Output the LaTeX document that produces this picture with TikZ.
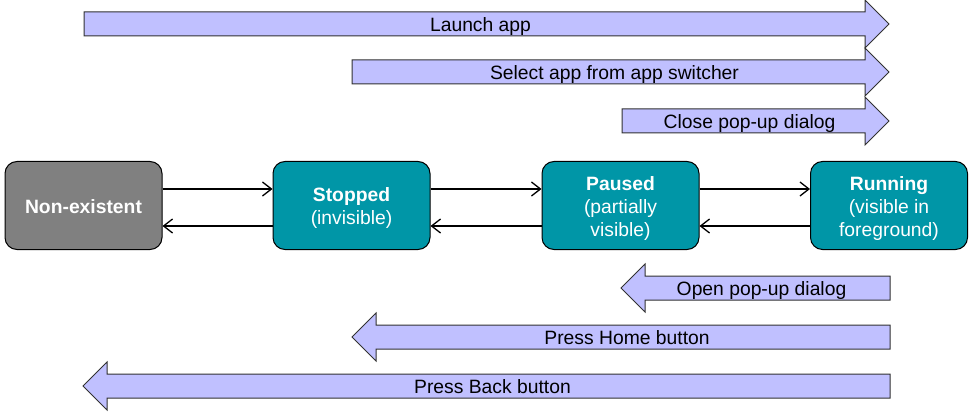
\documentclass[tikz,border=0pt]{standalone}
\usepackage{fontspec}
\setmainfont{Liberation Sans}
\usetikzlibrary{arrows.meta}
\definecolor{teal1}{RGB}{0,150,167}
\definecolor{gray1}{RGB}{128,128,128}
\definecolor{lav}{RGB}{192,192,255}
\definecolor{edge}{RGB}{50,50,50}
\tikzset{
  statebox/.style={draw=black, line width=1pt, rounded corners=12pt, minimum width=157pt, minimum height=88pt, text=white, align=center, inner sep=0pt, font=\fontsize{19.3}{23}\selectfont},
  fatarrow/.style={draw=edge, line width=1pt, fill=lav},
  arrowlabel/.style={font=\fontsize{19.3}{23}\selectfont, inner sep=0pt, anchor=base},
  conn/.style={line width=1.3pt, -{Straight Barb[length=9pt,width=14pt,line width=1.3pt]}}
}
\newcommand\boxtxt[1]{\raisebox{-3pt}[\height][\depth]{\begin{tabular}{@{}c@{}}#1\end{tabular}}}
% right-pointing fat arrow: #1 name, #2 left x, #3 tip x, #4 centre y, #5 text
\newcommand\fatR[5]{%
  \draw[fatarrow] (#2,#4-12) -- (#3-24,#4-12) -- (#3-24,#4-24) -- (#3,#4) -- (#3-24,#4+24) -- (#3-24,#4+12) -- (#2,#4+12) -- cycle;
  \node[arrowlabel] (#1) at ({(#2+#3-24)/2+6},#4+7.5) {#5};}
% left-pointing fat arrow: #1 name, #2 tip x, #3 right x, #4 centre y, #5 text
\newcommand\fatL[5]{%
  \draw[fatarrow] (#3,#4-12) -- (#2+24,#4-12) -- (#2+24,#4-24) -- (#2,#4) -- (#2+24,#4+24) -- (#2+24,#4+12) -- (#3,#4+12) -- cycle;
  \node[arrowlabel] (#1) at ({(#2+24+#3)/2-6},#4+7.5) {#5};}
\begin{document}
\begin{tikzpicture}[x=1pt,y=-1pt]
\useasboundingbox (0,0) rectangle (971,414);
\begin{scope}
\clip (0,0) rectangle (971,414);
\fatR{launch}{84}{889}{24}{Launch app}
\end{scope}
\fatR{select}{352}{889}{72}{Select app from app switcher}
\fatR{close}{622}{889}{121}{Close pop-up dialog}

\node[statebox, fill=gray1] (none) at (83.5,205.5) {\boxtxt{\textbf{Non-existent}}};
\node[statebox, fill=teal1] (stopped) at (351.5,205.5) {\boxtxt{\textbf{Stopped}\\(invisible)}};
\node[statebox, fill=teal1] (paused) at (620.5,205.5) {\boxtxt{\textbf{Paused}\\(partially\\visible)}};
\node[statebox, fill=teal1] (running) at (889,205.5) {\boxtxt{\textbf{Running}\\(visible in\\foreground)}};

\draw[conn] ([yshift=16.5pt]none.east) -- ([yshift=16.5pt]stopped.west);
\draw[conn] ([yshift=16.5pt]stopped.east) -- ([yshift=16.5pt]paused.west);
\draw[conn] ([yshift=16.5pt]paused.east) -- ([yshift=16.5pt]running.west);
\draw[conn] ([yshift=-20.5pt]running.west) -- ([yshift=-20.5pt]paused.east);
\draw[conn] ([yshift=-20.5pt]paused.west) -- ([yshift=-20.5pt]stopped.east);
\draw[conn] ([yshift=-20.5pt]stopped.west) -- ([yshift=-20.5pt]none.east);

\fatL{open}{621}{890}{288}{Open pop-up dialog}
\fatL{home}{352}{890}{337}{Press Home button}
\fatL{back}{83}{890}{386}{Press Back button}
\end{tikzpicture}
\end{document}
